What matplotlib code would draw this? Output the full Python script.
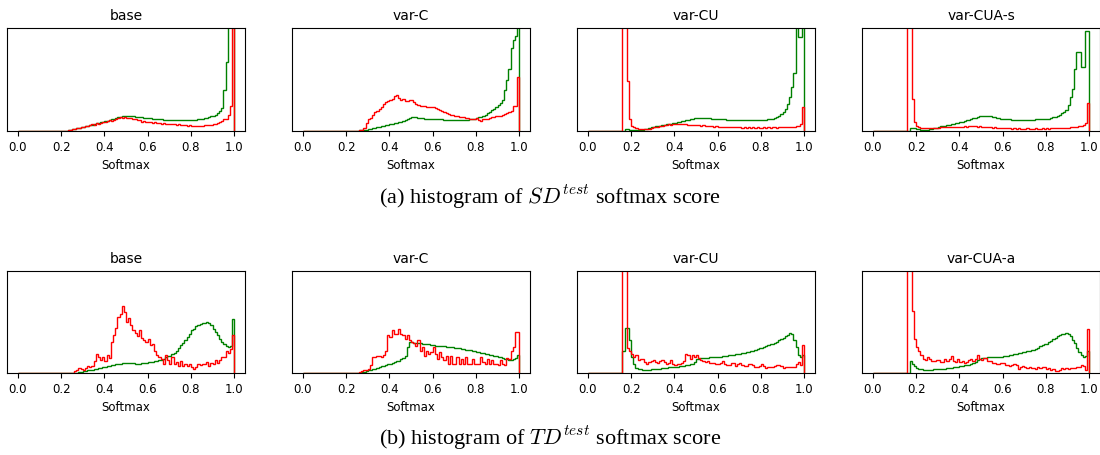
import numpy as np
import matplotlib.pyplot as plt

plt.rcParams['mathtext.fontset'] = 'cm'

# 100 bins of width 0.01 over the softmax range; heights in % of the visible axis
edges = np.linspace(0, 1, 101)
centers = (edges[:-1] + edges[1:]) / 2
xticks = [0.0, 0.2, 0.4, 0.6, 0.8, 1.0]

sd_names = ['base', 'var-C', 'var-CU', 'var-CUA-s']
td_names = ['base', 'var-C', 'var-CU', 'var-CUA-a']
captions = ['(a) histogram of $SD^{test}$ softmax score',
            '(b) histogram of $TD^{test}$ softmax score']

# --- SD test ---
sd_base_green = [0] * 20 + [
    0, 0, 0.3, 0.6, 1.0, 1.5, 2.0, 2.5, 3.0, 3.5,
    4.0, 4.5, 5.0, 5.5, 6.0, 6.8, 7.3, 7.8, 8.3, 9.0,
    9.5, 10.0, 10.6, 11.2, 11.8, 12.5, 13.2, 14.0, 14.5, 14.8,
    15.0, 14.8, 14.5, 14.2, 14.0, 13.6, 13.4, 13.2, 13.0, 12.8,
    12.6, 12.3, 12.0, 11.8, 11.6, 11.4, 11.2, 11.0, 10.8, 10.7,
    10.5, 10.4, 10.3, 10.2, 10.2, 10.3, 10.4, 10.5, 10.6, 10.7,
    10.8, 11.0, 11.1, 11.3, 11.6, 12.0, 12.4, 12.9, 13.5, 14.2,
    15.0, 16.0, 17.5, 19.5, 22.0, 40.0, 67.0, 150, 250, 400]
sd_base_red = [0] * 20 + [
    0, 0, 0.3, 0.6, 1.0, 1.5, 2.0, 2.8, 3.0, 3.8,
    4.2, 4.4, 5.0, 5.5, 6.5, 6.2, 7.5, 7.0, 8.0, 8.5,
    9.0, 9.5, 10.5, 10.0, 11.0, 12.0, 12.5, 13.2, 12.5, 13.8,
    13.0, 12.2, 12.8, 11.5, 12.0, 11.0, 10.5, 9.0, 10.0, 9.0,
    8.5, 9.2, 8.0, 8.3, 7.5, 8.0, 7.2, 7.5, 7.0, 6.5,
    7.0, 6.5, 6.8, 6.2, 6.5, 5.5, 6.0, 5.8, 5.2, 5.5,
    5.0, 5.2, 4.8, 5.0, 5.0, 5.3, 5.8, 5.5, 6.0, 6.2,
    6.5, 7.0, 7.5, 8.5, 10.0, 12.0, 12.0, 16.0, 24.0, 400]
sd_varc_green = [0] * 20 + [
    0, 0, 0, 0, 0, 0.3, 0.5, 0.8, 1.0, 1.3,
    1.7, 2.2, 2.7, 3.2, 3.7, 4.2, 4.7, 5.2, 5.7, 6.2,
    6.6, 7.1, 7.6, 8.1, 8.6, 9.0, 10.0, 11.0, 12.0, 13.0,
    14.0, 13.5, 13.2, 12.9, 12.6, 12.3, 12.0, 11.8, 11.7, 11.6,
    11.6, 11.5, 11.4, 11.3, 11.2, 11.1, 11.0, 11.0, 10.9, 10.9,
    10.9, 10.9, 10.9, 10.9, 11.0, 11.0, 11.1, 11.3, 11.6, 12.0,
    12.6, 13.2, 14.0, 15.0, 16.0, 17.2, 18.5, 20.0, 21.5, 23.0,
    25.0, 27.5, 30.0, 40.0, 50.0, 60.0, 81.0, 88.0, 92.0, 400]
sd_varc_red = [0] * 20 + [
    0, 0, 0, 0, 0, 0.3, 0.6, 1.0, 3.0, 8.0,
    11.6, 13.0, 15.5, 18.0, 19.5, 21.5, 23.0, 26.0, 28.0, 29.0,
    30.0, 31.5, 34.0, 34.5, 32.5, 30.5, 31.0, 29.5, 29.5, 30.0,
    30.5, 28.0, 26.0, 25.0, 24.5, 24.0, 24.0, 23.5, 23.5, 23.2,
    23.0, 22.0, 21.0, 20.5, 19.0, 18.0, 17.5, 16.5, 16.0, 15.5,
    15.0, 14.5, 14.0, 13.5, 14.0, 13.0, 12.5, 12.0, 11.6, 12.0,
    12.6, 11.0, 10.0, 11.5, 12.0, 12.0, 13.0, 13.5, 14.0, 14.2,
    14.6, 15.0, 15.5, 16.5, 17.0, 18.0, 19.0, 23.8, 23.8, 52.0]
sd_varcu_green = [0] * 10 + [
    0, 0, 0, 0, 0, 0, 0, 1.5, 1.5, 1.2,
    1.0, 1.0, 1.0, 1.1, 1.2, 1.3, 1.8, 2.4, 3.0, 3.5,
    4.0, 4.4, 4.8, 5.2, 5.6, 6.0, 6.4, 6.8, 7.2, 7.6,
    8.0, 8.5, 9.0, 9.5, 10.0, 10.5, 11.0, 11.5, 12.0, 12.5,
    13.0, 12.9, 12.8, 12.7, 12.6, 12.5, 12.3, 12.0, 11.8, 11.6,
    11.5, 11.4, 11.3, 11.2, 11.1, 11.0, 10.9, 10.9, 10.8, 10.8,
    10.8, 10.8, 10.8, 10.8, 10.8, 10.8, 10.8, 10.8, 10.8, 10.8,
    10.8, 10.9, 11.0, 11.2, 11.5, 12.0, 12.8, 13.8, 15.0, 16.5,
    18.0, 21.0, 26.0, 33.0, 42.6, 56.0, 150, 91.0, 91.0, 200]
sd_varcu_red = [0] * 10 + [
    0, 0, 0, 0, 0, 0, 400, 400, 49.0, 11.5,
    5.0, 3.5, 2.6, 2.2, 1.8, 1.6, 1.5, 1.8, 1.6, 2.8,
    4.0, 3.5, 4.2, 4.8, 5.2, 6.0, 5.5, 6.5, 6.2, 7.0,
    7.2, 6.8, 7.0, 6.5, 6.8, 6.5, 6.2, 6.0, 6.2, 5.8,
    5.6, 5.8, 5.2, 5.5, 5.0, 5.0, 4.6, 4.8, 4.2, 4.5,
    4.0, 4.2, 3.8, 4.0, 3.5, 3.8, 3.6, 4.0, 3.4, 3.6,
    3.6, 3.2, 3.5, 3.3, 3.6, 3.2, 3.4, 3.3, 3.6, 3.2,
    3.3, 3.5, 3.2, 3.4, 3.3, 3.5, 3.6, 3.3, 3.5, 3.6,
    3.6, 3.5, 3.8, 4.0, 4.0, 4.0, 4.5, 5.0, 6.5, 23.6]
sd_varcuas_green = [0] * 10 + [
    0, 0, 0, 0, 0, 0, 0, 3.3, 3.0, 2.5,
    2.0, 1.6, 1.4, 1.3, 1.3, 1.3, 1.5, 2.0, 2.6, 3.3,
    4.0, 4.4, 4.8, 5.2, 5.6, 6.0, 6.5, 7.0, 7.5, 7.9,
    8.3, 8.9, 9.5, 10.2, 10.9, 11.6, 12.3, 13.0, 13.8, 14.4,
    15.0, 14.8, 14.6, 14.4, 14.2, 14.0, 13.4, 12.8, 12.2, 11.8,
    11.6, 11.4, 11.3, 11.2, 11.1, 11.0, 11.0, 11.0, 11.0, 11.0,
    11.0, 11.0, 11.0, 11.0, 11.1, 11.2, 11.3, 11.4, 11.5, 11.6,
    11.6, 12.0, 12.5, 13.2, 14.0, 15.0, 16.0, 17.0, 18.0, 20.0,
    25.0, 33.0, 41.0, 60.0, 77.0, 77.0, 62.0, 62.0, 97.0, 97.0]
sd_varcuas_red = [0] * 10 + [
    0, 0, 0, 0, 0, 0, 400, 400, 31.5, 8.3,
    5.0, 4.0, 3.3, 3.0, 2.7, 2.6, 2.5, 2.7, 3.0, 3.2,
    3.3, 3.5, 3.8, 3.6, 4.0, 3.8, 4.0, 3.8, 4.2, 4.0,
    4.0, 4.2, 4.5, 4.3, 4.8, 5.0, 4.6, 4.8, 4.2, 4.5,
    4.3, 4.0, 4.2, 3.6, 3.8, 3.3, 3.5, 3.0, 3.2, 2.8,
    2.6, 2.8, 2.5, 2.7, 2.4, 2.6, 2.3, 2.5, 2.3, 2.4,
    2.3, 2.5, 2.2, 2.4, 2.3, 2.5, 2.2, 2.4, 2.5, 2.3,
    2.6, 2.4, 2.6, 2.8, 2.5, 3.0, 2.8, 3.2, 3.0, 3.3,
    3.3, 3.5, 3.8, 3.6, 4.0, 4.5, 5.0, 6.0, 7.3, 27.5]

# --- TD test ---
td_base_green = [0] * 20 + [
    0, 0, 0, 0, 0, 0, 0, 0, 0.8, 1.4,
    2.0, 2.3, 2.6, 2.9, 3.2, 3.6, 4.0, 4.5, 5.0, 5.5,
    6.0, 6.5, 7.0, 7.5, 8.0, 8.5, 8.8, 9.1, 9.4, 9.6,
    9.8, 9.7, 9.6, 9.4, 9.2, 9.0, 9.2, 9.5, 9.8, 10.2,
    10.5, 10.8, 11.1, 11.4, 11.8, 12.4, 13.2, 14.2, 15.2, 16.2,
    17.0, 18.5, 20.0, 22.0, 24.5, 27.0, 29.5, 32.0, 35.0, 38.5,
    42.0, 43.5, 45.7, 47.0, 48.2, 49.0, 49.5, 50.0, 49.5, 47.0,
    43.5, 40.0, 37.0, 33.5, 30.0, 28.0, 26.0, 25.5, 26.0, 52.6]
td_base_red = [0] * 20 + [
    0, 0, 0, 0, 0, 0, 1.5, 3.0, 5.0, 4.0,
    3.0, 4.5, 6.5, 6.0, 7.0, 12.0, 19.0, 15.7, 12.4, 16.0,
    11.8, 17.3, 15.0, 30.0, 37.0, 44.4, 55.0, 57.5, 66.0, 60.0,
    50.0, 54.0, 46.7, 42.0, 39.0, 36.0, 42.0, 34.6, 32.0, 30.0,
    33.7, 27.0, 28.5, 22.0, 17.3, 15.7, 14.0, 9.0, 17.3, 12.5,
    8.5, 15.5, 8.5, 11.0, 6.5, 11.8, 6.5, 9.0, 6.5, 8.5,
    6.0, 4.0, 6.0, 8.5, 7.5, 9.0, 8.5, 10.8, 6.5, 9.8,
    9.0, 12.5, 9.8, 13.0, 16.0, 15.5, 22.0, 19.5, 24.0, 37.0]
td_varc_green = [0] * 20 + [
    0, 0, 0, 0, 0, 0, 0.3, 0.8, 1.3, 2.0,
    2.6, 3.2, 3.8, 4.4, 5.2, 6.0, 6.6, 7.2, 7.8, 8.4,
    9.0, 9.8, 10.6, 11.4, 12.2, 14.0, 15.0, 17.0, 25.5, 30.0,
    30.0, 29.8, 29.6, 29.4, 29.2, 28.8, 28.6, 28.3, 28.0, 27.5,
    27.0, 26.8, 26.6, 26.4, 26.2, 26.0, 25.8, 25.6, 25.4, 25.2,
    25.0, 24.6, 24.2, 23.8, 23.4, 23.0, 22.6, 22.2, 21.8, 21.2,
    20.6, 20.2, 19.7, 19.2, 18.8, 18.3, 17.8, 17.3, 16.8, 16.2,
    15.7, 15.2, 14.7, 14.2, 13.6, 13.0, 13.0, 13.8, 15.0, 17.3]
td_varc_red = [0] * 20 + [
    0, 0, 0, 0, 0, 0, 1.0, 2.0, 2.5, 3.0,
    4.0, 8.0, 15.7, 16.0, 17.0, 16.5, 16.0, 18.0, 22.0, 37.0,
    35.5, 42.0, 38.6, 38.0, 43.5, 38.5, 37.0, 33.7, 37.0, 32.0,
    30.0, 29.0, 26.0, 32.0, 22.0, 25.5, 17.0, 22.0, 19.0, 21.0,
    25.5, 19.0, 14.0, 20.6, 15.5, 12.4, 17.0, 9.0, 16.3, 9.0,
    9.0, 15.7, 8.5, 14.0, 8.5, 15.7, 8.5, 9.0, 14.0, 8.5,
    8.5, 9.0, 15.7, 11.0, 8.5, 14.0, 9.0, 12.4, 8.5, 8.5,
    7.5, 13.0, 9.0, 7.5, 15.0, 14.0, 22.0, 25.5, 40.0, 40.0]
td_varcu_green = [0] * 10 + [
    0, 0, 0, 0, 0, 0, 21.5, 44.4, 44.4, 32.0,
    15.7, 8.5, 5.0, 4.2, 3.6, 3.3, 3.3, 3.3, 3.4, 3.5,
    3.6, 3.8, 4.0, 4.2, 4.5, 5.0, 5.2, 5.5, 5.8, 6.0,
    6.0, 6.2, 6.5, 6.8, 7.2, 7.5, 8.0, 8.5, 9.0, 11.0,
    14.0, 14.2, 14.4, 14.6, 14.8, 15.0, 15.2, 15.4, 15.5, 15.6,
    15.7, 16.0, 16.3, 16.6, 17.0, 17.3, 17.6, 18.0, 18.4, 18.7,
    19.0, 19.5, 20.0, 20.5, 21.0, 21.5, 22.0, 22.6, 23.4, 24.2,
    25.0, 25.8, 26.5, 27.2, 28.0, 28.8, 29.8, 30.8, 32.0, 33.2,
    34.6, 36.0, 37.5, 39.0, 38.0, 32.0, 25.5, 17.3, 16.0, 17.3]
td_varcu_red = [0] * 10 + [
    0, 0, 0, 0, 0, 0, 400, 400, 25.0, 22.0,
    19.0, 15.7, 17.3, 12.4, 14.0, 14.0, 10.5, 9.0, 10.5, 12.0,
    12.4, 11.0, 9.8, 11.5, 13.0, 10.5, 8.5, 10.0, 12.4, 9.0,
    7.5, 9.0, 9.0, 10.0, 11.8, 19.0, 17.3, 14.0, 17.3, 15.7,
    17.3, 14.5, 12.4, 12.0, 11.0, 11.8, 10.0, 9.8, 9.5, 8.5,
    8.5, 10.0, 11.8, 9.0, 7.5, 7.5, 9.5, 9.8, 7.0, 9.0,
    9.8, 8.0, 6.5, 7.0, 8.5, 8.5, 7.5, 6.0, 5.8, 7.0,
    9.0, 7.0, 5.2, 6.0, 5.8, 6.0, 7.0, 7.5, 7.5, 6.5,
    5.2, 5.5, 5.8, 6.0, 5.8, 5.8, 8.5, 10.8, 7.5, 27.0]
td_varcuaa_green = [0] * 10 + [
    0, 0, 0, 0, 0, 0, 0, 12.0, 8.5, 6.5,
    4.5, 4.0, 3.6, 3.4, 3.3, 3.3, 3.3, 3.4, 3.5, 3.6,
    3.8, 4.0, 4.2, 4.4, 4.7, 5.0, 5.3, 5.6, 6.0, 6.3,
    6.5, 7.0, 7.4, 7.8, 8.2, 8.5, 9.5, 11.0, 13.0, 14.0,
    15.0, 15.0, 15.1, 15.2, 15.3, 15.4, 15.5, 15.7, 15.9, 16.1,
    16.3, 16.6, 17.0, 17.4, 17.8, 18.2, 18.6, 19.2, 19.8, 20.2,
    20.6, 21.2, 21.8, 22.4, 23.0, 24.0, 25.0, 26.0, 27.0, 28.0,
    28.8, 30.0, 31.5, 33.0, 34.5, 36.0, 37.0, 38.0, 38.6, 38.8,
    38.0, 36.0, 32.0, 29.0, 25.0, 21.0, 18.0, 15.7, 16.5, 22.0]
td_varcuaa_red = [0] * 10 + [
    0, 0, 0, 0, 0, 0, 400, 400, 61.0, 33.7,
    25.5, 22.0, 17.3, 14.0, 13.0, 15.7, 14.0, 11.5, 12.0, 13.0,
    13.0, 11.0, 10.8, 14.0, 12.0, 14.0, 16.3, 12.0, 11.0, 14.0,
    10.8, 12.0, 9.8, 11.0, 12.4, 14.0, 12.0, 14.0, 17.3, 14.0,
    13.0, 15.0, 15.0, 12.0, 11.8, 10.0, 9.8, 9.0, 9.0, 10.0,
    9.8, 8.0, 7.5, 7.0, 8.0, 8.5, 7.5, 4.0, 6.0, 6.5,
    6.0, 5.0, 5.5, 5.2, 4.8, 4.0, 6.0, 5.0, 6.0, 5.5,
    4.0, 5.0, 2.6, 3.5, 2.0, 2.0, 2.5, 4.5, 4.0, 4.5,
    4.2, 4.5, 5.0, 5.2, 5.5, 6.0, 7.5, 6.5, 2.6, 43.5]

sd_green = [sd_base_green, sd_varc_green, sd_varcu_green, sd_varcuas_green]
sd_red = [sd_base_red, sd_varc_red, sd_varcu_red, sd_varcuas_red]
td_green = [td_base_green, td_varc_green, td_varcu_green, td_varcuaa_green]
td_red = [td_base_red, td_varc_red, td_varcu_red, td_varcuaa_red]

W, H = 1100, 455
fig = plt.figure(figsize=(W / 100, H / 100), dpi=100)

lefts = [7, 292, 577, 862]
rows = [(sd_names, sd_green, sd_red, 28, 131),
        (td_names, td_green, td_red, 271, 373)]

for names, greens, reds, top, bottom in rows:
    for left, name, g, r in zip(lefts, names, greens, reds):
        ax = fig.add_axes([left / W, 1 - bottom / H, 238 / W, (bottom - top) / H])
        ax.hist(centers, bins=edges, weights=g, histtype='step', color='g', lw=1.0)
        ax.hist(centers, bins=edges, weights=r, histtype='step', color='r', lw=1.0)
        ax.set_ylim(0, 100)
        ax.set_yticks([])
        ax.set_xticks(xticks)
        ax.tick_params(labelsize=8.5)
        ax.set_xlabel('Softmax', fontsize=8.5)
        ax.set_title(name, fontsize=10)

fig.text(0.5, 1 - 197 / H, captions[0], ha='center', va='center',
         family='Liberation Serif', fontsize=16)
fig.text(0.5, 1 - 438 / H, captions[1], ha='center', va='center',
         family='Liberation Serif', fontsize=16)

fig.savefig('out.png', dpi=100)
